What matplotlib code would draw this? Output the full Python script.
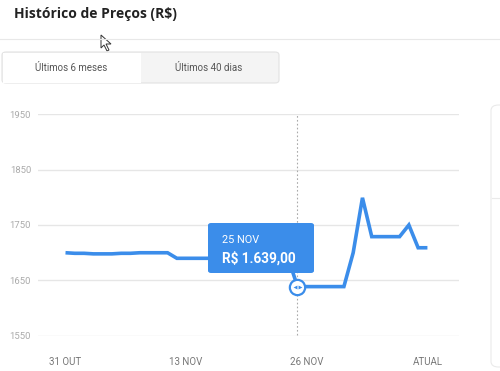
import matplotlib
matplotlib.use("Agg")
import matplotlib.pyplot as plt
from matplotlib.patches import FancyBboxPatch, Rectangle, Polygon
from matplotlib.lines import Line2D

# ---------------- data ----------------
days = list(range(40))  # 31 OUT .. ATUAL (last 40 days)
prices = [1700, 1699, 1699, 1698, 1698, 1698, 1699, 1699, 1700, 1700, 1700, 1700,
          1690, 1690, 1690, 1690, 1690, 1690, 1690, 1690, 1690, 1690, 1690, 1690, 1690,
          1639, 1639, 1639, 1639, 1639, 1639,
          1700, 1799, 1729, 1729, 1729, 1729, 1750, 1709, 1709]
xtick_pos = [0, 13, 26, 39]
xtick_labels = ["31 OUT", "13 NOV", "26 NOV", "ATUAL"]
yticks = [1550, 1650, 1750, 1850, 1950]
hover_idx = 25
hover_label = "25 NOV"
title = "Histórico de Preços (R$)"
buttons = ["Últimos 6 meses", "Últimos 40 dias"]

W, H = 500, 371
BLUE = "#3b8dea"

fig = plt.figure(figsize=(W / 100, H / 100), dpi=100)
fig.patch.set_facecolor("white")

def fx(x):
    return x / W

def fy(y):
    return 1 - y / H

# ---------------- header ----------------
fig.text(fx(14), fy(14), title, fontsize=10, fontweight="bold", family=["Open Sans", "DejaVu Sans"],
         color="#222222", va="center", ha="left")
fig.add_artist(Line2D([0, 1], [fy(39), fy(39)], transform=fig.transFigure, color="#e8e8e8", lw=0.8))

# mouse cursor decoration
cur = [(101, 35), (101, 48), (104, 45), (107, 51), (109, 50), (106, 44), (111, 44)]
fig.add_artist(Polygon([(fx(a), fy(b)) for a, b in cur], closed=True, transform=fig.transFigure,
                       facecolor="white", edgecolor="#333333", lw=0.7))

# buttons
fig.add_artist(FancyBboxPatch((fx(2), fy(83)), fx(277), (83 - 52) / H,
                              boxstyle="round,pad=0,rounding_size=0.008", transform=fig.transFigure,
                              facecolor="#f4f4f4", edgecolor="#e2e2e2", lw=0.8))
fig.add_artist(Rectangle((fx(2.5), fy(82.5)), fx(138.5), (82.5 - 52.5) / H, transform=fig.transFigure,
                         facecolor="white", edgecolor="none"))
fig.text(fx(71), fy(68), buttons[0], fontsize=7, family="Roboto", color="#555555", ha="center", va="center")
fig.text(fx(209), fy(68), buttons[1], fontsize=7, family="Roboto", color="#555555", ha="center", va="center")

# right card edge
fig.add_artist(FancyBboxPatch((fx(491), fy(367)), fx(20), (367 - 105) / H,
                              boxstyle="round,pad=0,rounding_size=0.015", transform=fig.transFigure,
                              facecolor="white", edgecolor="#eaeaea", lw=0.8))
fig.add_artist(Line2D([fx(492), 1], [fy(198), fy(198)], transform=fig.transFigure, color="#eaeaea", lw=0.8))

# ---------------- chart ----------------
ax_left, ax_right, ax_top, ax_bottom = 38, 459, 114, 336
ax = fig.add_axes([fx(ax_left), fy(ax_bottom), fx(ax_right - ax_left), (ax_bottom - ax_top) / H])
ax.set_facecolor("none")
px_per_day = 9.28
x0 = 65.5
ax.set_xlim((ax_left - x0) / px_per_day, (ax_right - x0) / px_per_day)
ax.set_ylim(1550, 1950)
for s in ax.spines.values():
    s.set_visible(False)
ax.set_yticks(yticks)
ax.set_yticklabels([str(v) for v in yticks], fontsize=6.8, color="#aaaaaa", family="Roboto")
ax.set_xticks(xtick_pos)
ax.set_xticklabels(xtick_labels, fontsize=7, color="#777777", family="Roboto")
ax.tick_params(axis="both", length=0)
ax.tick_params(axis="y", pad=5)
ax.tick_params(axis="x", pad=15)
for lab in ax.get_yticklabels():
    lab.set_horizontalalignment("right")
ax.grid(axis="y", color="#e6e6e6", lw=1)
ax.set_axisbelow(True)

ax.axvline(days[hover_idx], color="#aaaaaa", lw=0.8, ls=(0, (1.5, 2)), ymin=0.005, ymax=1.0)
ax.plot(days, prices, color=BLUE, lw=2.6, solid_joinstyle="miter", solid_capstyle="butt", zorder=3)

# hover marker
hx, hy = days[hover_idx], prices[hover_idx]
ax.plot([hx], [hy], marker="o", ms=11, mfc="white", mec=BLUE, mew=1.6, zorder=5)
ax.plot([hx - 0.22], [hy], marker="<", ms=2.8, color=BLUE, mec="none", zorder=6)
ax.plot([hx + 0.22], [hy], marker=">", ms=2.8, color=BLUE, mec="none", zorder=6)

# tooltip
tip = FancyBboxPatch((fx(208), fy(273)), fx(106), (273 - 223) / H,
                     boxstyle="round,pad=0,rounding_size=0.006", transform=fig.transFigure,
                     facecolor=BLUE, edgecolor="none", zorder=10)
fig.add_artist(tip)
val = f"{hy:,.2f}".replace(",", "X").replace(".", ",").replace("X", ".")
fig.text(fx(222), fy(240), hover_label, fontsize=7.8, family="Roboto", color="white", va="center", zorder=11)
fig.text(fx(222), fy(258), "R$ " + val, fontsize=9.8, family="Roboto", fontweight="bold",
         color="white", va="center", zorder=11)

fig.savefig("out.png", dpi=100, facecolor="white")
